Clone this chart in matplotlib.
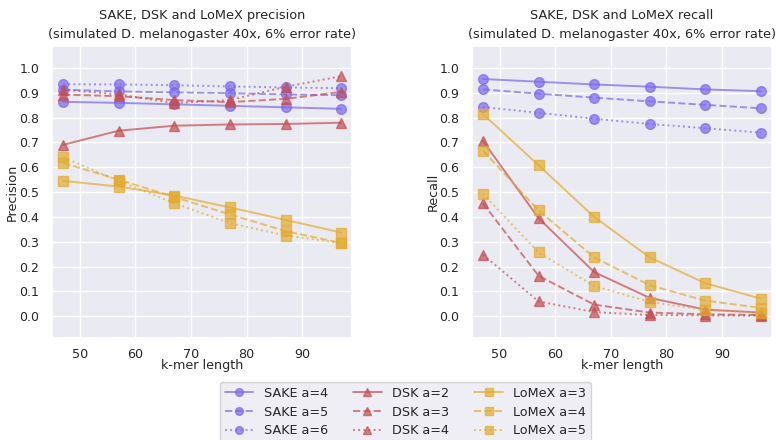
import matplotlib
matplotlib.use("Agg")
import matplotlib.pyplot as plt
import seaborn as sns

sns.set_theme(style="darkgrid")
plt.rcParams['font.family'] = ['DejaVu Sans']

k = [47, 57, 67, 77, 87, 97]

prec_sake4 = [0.863, 0.859, 0.853, 0.847, 0.841, 0.835]
prec_sake5 = [0.912, 0.905, 0.901, 0.898, 0.893, 0.890]
prec_sake6 = [0.934, 0.933, 0.930, 0.925, 0.921, 0.918]
prec_dsk2 = [0.690, 0.747, 0.767, 0.772, 0.774, 0.779]
prec_dsk3 = [0.892, 0.886, 0.870, 0.862, 0.875, 0.903]
prec_dsk4 = [0.912, 0.893, 0.858, 0.870, 0.924, 0.966]
prec_lomex3 = [0.545, 0.522, 0.486, 0.438, 0.388, 0.337]
prec_lomex4 = [0.617, 0.550, 0.480, 0.410, 0.343, 0.295]
prec_lomex5 = [0.640, 0.545, 0.455, 0.375, 0.325, 0.295]

rec_sake4 = [0.955, 0.944, 0.933, 0.924, 0.913, 0.906]
rec_sake5 = [0.913, 0.896, 0.880, 0.865, 0.851, 0.837]
rec_sake6 = [0.842, 0.819, 0.795, 0.774, 0.757, 0.739]
rec_dsk2 = [0.706, 0.395, 0.178, 0.074, 0.027, 0.015]
rec_dsk3 = [0.455, 0.163, 0.047, 0.015, 0.008, 0.005]
rec_dsk4 = [0.248, 0.060, 0.017, 0.005, 0.003, 0.002]
rec_lomex3 = [0.814, 0.608, 0.400, 0.237, 0.133, 0.071]
rec_lomex4 = [0.667, 0.426, 0.237, 0.125, 0.063, 0.034]
rec_lomex5 = [0.493, 0.257, 0.122, 0.058, 0.025, 0.015]

labels = ["SAKE a=4", "SAKE a=5", "SAKE a=6",
          "DSK a=2", "DSK a=3", "DSK a=4",
          "LoMeX a=3", "LoMeX a=4", "LoMeX a=5"]

c_sake = "#7b68ee"
c_dsk = "#c44e52"
c_lomex = "#e3ac2f"

styles = [
    (c_sake, "o", "-"), (c_sake, "o", "--"), (c_sake, "o", ":"),
    (c_dsk, "^", "-"), (c_dsk, "^", "--"), (c_dsk, "^", ":"),
    (c_lomex, "s", "-"), (c_lomex, "s", "--"), (c_lomex, "s", ":"),
]

prec = [prec_sake4, prec_sake5, prec_sake6, prec_dsk2, prec_dsk3, prec_dsk4,
        prec_lomex3, prec_lomex4, prec_lomex5]
rec = [rec_sake4, rec_sake5, rec_sake6, rec_dsk2, rec_dsk3, rec_dsk4,
       rec_lomex3, rec_lomex4, rec_lomex5]

fig = plt.figure(figsize=(7.76, 4.4), dpi=100)
ax1 = fig.add_axes([0.067, 0.232, 0.387, 0.663])
ax2 = fig.add_axes([0.608, 0.232, 0.387, 0.663])

handles = []
for ax, data in ((ax1, prec), (ax2, rec)):
    for (col, mk, ls), vals, lab in zip(styles, data, labels):
        h, = ax.plot(k, vals, color=col, marker=mk, linestyle=ls, alpha=0.7,
                     markersize=7, linewidth=1.4, label=lab)
        if ax is ax1:
            handles.append(h)
    ax.set_xlim(45, 99)
    ax.set_ylim(-0.087, 1.087)
    ax.set_xticks([50, 60, 70, 80, 90])
    ax.set_yticks([0.0, 0.1, 0.2, 0.3, 0.4, 0.5, 0.6, 0.7, 0.8, 0.9, 1.0])
    ax.set_yticklabels([f"{v:.1f}" for v in ax.get_yticks()])
    ax.tick_params(axis='y', labelsize=9.0, pad=3)
    ax.tick_params(axis='x', labelsize=9.2, pad=1)
    ax.set_xlabel("k-mer length", fontsize=9.2, labelpad=-1)

ax1.set_ylabel("Precision", fontsize=9.2)
ax2.set_ylabel("Recall", fontsize=9.2)
ax1.yaxis.set_label_coords(-0.11, 0.5)
ax2.yaxis.set_label_coords(-0.108, 0.5)
ax1.set_title("SAKE, DSK and LoMeX precision\n(simulated D. melanogaster 40x, 6% error rate)",
              fontsize=9.3, linespacing=1.6, pad=6)
ax2.set_title("SAKE, DSK and LoMeX recall\n(simulated D. melanogaster 40x, 6% error rate)",
              fontsize=9.3, linespacing=1.6, pad=6)

leg = fig.legend(handles=handles, loc="upper center", bbox_to_anchor=(0.5226, 0.147),
                 ncol=3, fontsize=9.2, markerscale=0.8, handlelength=2.2,
                 columnspacing=2.0, labelspacing=0.45, borderpad=0.4, frameon=True)

fig.savefig("out.png", dpi=100)
